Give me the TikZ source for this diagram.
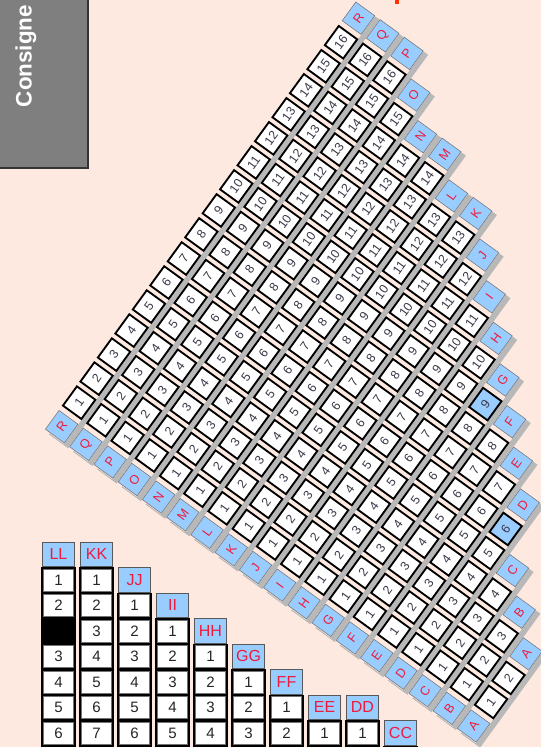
\documentclass[tikz,border=0pt]{standalone}
\usepackage{fontspec}
\setmainfont{Liberation Sans}
\usepackage{xcolor}
\usepackage{tikz}

\definecolor{pagebg}{HTML}{FDE9E0}
\definecolor{tagblue}{HTML}{99CCFF}
\definecolor{tagred}{HTML}{EE1C3C}
\definecolor{shadowgray}{HTML}{B8B8B8}
\definecolor{consignegray}{HTML}{7F7F7F}
\definecolor{digitgray}{HTML}{383848}
\definecolor{markred}{HTML}{FF3300}

% strips of the rotated grid: label / number of cells / highlighted cell
\def\striplist{R/16/0, Q/16/0, P/16/0, O/15/0, N/14/0, M/14/0, L/13/0, K/13/0, J/12/0,
  I/11/0, H/10/0, G/9/9, F/8/0, E/7/0, D/6/6, C/4/0, B/3/0, A/2/0}

\begin{document}
\begin{tikzpicture}[
    x=0.75pt, y=0.75pt,
    every node/.style={inner sep=0pt},
    stripcell/.style={draw=black, line width=1.4pt, fill=white},
    striptag/.style={draw=black!55, line width=0.4pt, fill=tagblue},
    stripnum/.style={text=digitgray, font=\fontsize{9.3}{10}\selectfont, rotate=54},
    striplabel/.style={text=tagred, font=\fontsize{9.5}{10}\selectfont, rotate=54},
    colframe/.style={fill=black},
    colcell/.style={draw=black!55, line width=0.4pt, fill=white},
    coltag/.style={draw=black!65, line width=0.5pt, fill=tagblue},
    colnum/.style={text=black!85, font=\fontsize{11.3}{12}\selectfont},
    collabel/.style={text=tagred, font=\fontsize{12}{13}\selectfont}
]

\useasboundingbox (0,0) rectangle (541,747);
\clip (0,0) rectangle (541,747);
\fill[pagebg] (0,0) rectangle (541,747);

% rotated strips A..R
\begin{scope}[shift={(61.7,320.3)}, rotate=-36, xscale=29.95, yscale=29.7]
  \foreach \lab/\len/\hl [count=\k from 0] in \striplist {
    \fill[shadowgray] (\k-0.2,-0.46) rectangle (\k+0.6,\len+1.38);
  }
  \foreach \lab/\len/\hl [count=\k from 0] in \striplist {
    \fill[pagebg] (\k-0.4,-0.42) rectangle (\k+0.4,\len+1.42);
    \pgfmathtruncatemacro{\topidx}{\len+1}
    \draw[striptag] (\k-0.39,-0.39) rectangle (\k+0.39,0.39);
    \node[striplabel] (\lab-bot) at (\k,0) {\lab};
    \draw[striptag] (\k-0.39,\topidx-0.39) rectangle (\k+0.39,\topidx+0.39);
    \node[striplabel] (\lab-top) at (\k,\topidx) {\lab};
    \foreach \n in {1,...,\len} {
      \ifnum\n=\hl\relax \def\cellfill{tagblue}\else \def\cellfill{white}\fi
      \draw[stripcell, fill=\cellfill] (\k-0.38,\n-0.4) rectangle (\k+0.38,\n+0.4);
      \node[stripnum] (\lab-\n) at (\k,\n) {\n};
    }
  }
\end{scope}

% pixel frame, y downwards
\begin{scope}[shift={(0,747)}, yscale=-1]
  % Consigne box
  \fill[consignegray] (-5,-5) rectangle (88,168);
  \draw[black!80, line width=0.9pt] (88,-5) -- (88,168) -- (-5,168);
  \node[text=white, font=\fontsize{16.8}{18}\selectfont\bfseries, rotate=90] (consigne) at (26,56) {Consigne};

  % cut red mark at the top
  \fill[markred] (395,-1) rectangle (399,4.5);

  % upright columns LL..CC
  \foreach \lab/\lr/\gap [count=\c from 0] in {LL/0/3, KK/0/0, JJ/1/0, II/2/0, HH/3/0,
      GG/4/0, FF/5/0, EE/6/0, DD/6/0, CC/7/0} {
    \pgfmathsetmacro{\xl}{41+38*\c}
    \pgfmathsetmacro{\ytop}{567.3+25.5*\lr}
    \fill[colframe] (\xl,\ytop) rectangle (\xl+35,770);
    \draw[coltag] (\xl+1.7,\ytop-25.3) rectangle (\xl+33.3,\ytop-0.5);
    \node[collabel] (\lab-tag) at (\xl+17.5,\ytop-12.9) {\lab};
    \pgfmathtruncatemacro{\first}{\lr+1}
    \ifnum\first<8\relax
    \foreach \r in {\first,...,7} {
      \ifnum\r=\gap\relax\else
        \pgfmathtruncatemacro{\num}{\r-\lr-(\gap>0)*(\r>\gap)}
        \pgfmathsetmacro{\yc}{567.3+25.5*(\r-1)}
        \draw[colcell] (\xl+2.6,\yc+1.7) rectangle (\xl+32.4,\yc+23.8);
        \node[colnum] (\lab-\num) at (\xl+17.5,\yc+12.6) {\num};
      \fi
    }
    \fi
  }
\end{scope}

\end{tikzpicture}
\end{document}
